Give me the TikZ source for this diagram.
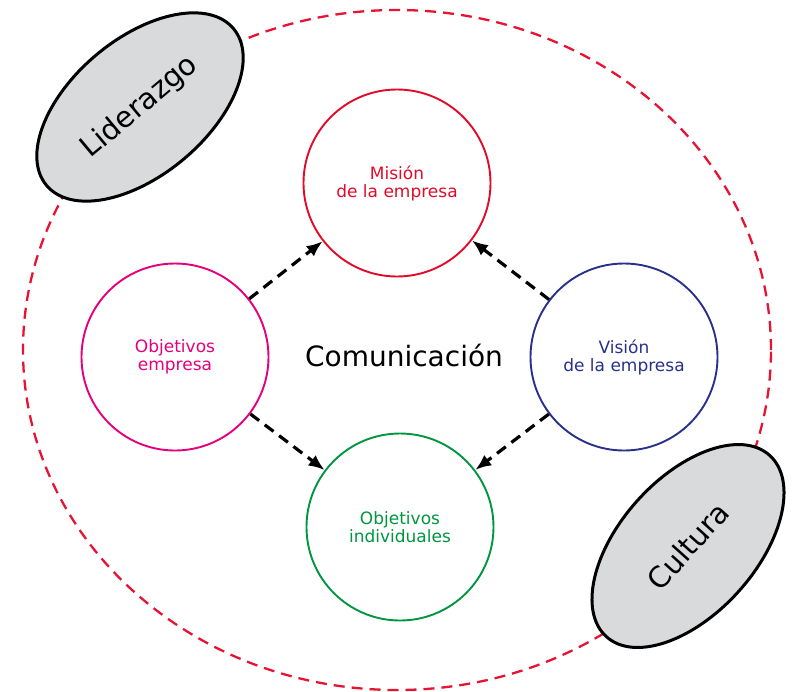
\documentclass[tikz,border=0pt]{standalone}
\usepackage{fontspec}
\setmainfont{DejaVu Sans}
\usetikzlibrary{arrows.meta,shapes.geometric}
\definecolor{ringred}{RGB}{230,20,50}
\definecolor{misred}{RGB}{226,10,40}
\definecolor{objpink}{RGB}{228,0,125}
\definecolor{visblue}{RGB}{40,48,140}
\definecolor{indgreen}{RGB}{0,150,64}
\definecolor{pillargray}{RGB}{217,218,220}

\begin{document}
\begin{tikzpicture}[x=1pt,y=-1pt,>={Latex[length=16pt,width=13pt]},
  ring/.style={ellipse,draw=ringred,line width=2.3pt,dash pattern=on 11pt off 7pt,minimum width=748pt,minimum height=680pt,inner sep=0pt},
  topic/.style={circle,draw,line width=1.9pt,minimum size=187pt,align=center,font=\fontsize{17}{18}\selectfont},
  pillar/.style={ellipse,draw=black,line width=3pt,fill=pillargray,minimum width=244pt,minimum height=136pt,inner sep=0pt,font=\fontsize{29}{34}\selectfont},
  link/.style={->,line width=3.2pt,dash pattern=on 11pt off 7pt}]
\useasboundingbox (0,0) rectangle (792,691);
\node[ring] (ring) at (397,350) {};
\node[topic,draw=misred,text=misred] (mision) at (397,183) {Misión\\de la empresa};
\node[topic,draw=objpink,text=objpink] (objemp) at (175,357) {Objetivos\\empresa};
\node[topic,draw=visblue,text=visblue] (vision) at (624,357) {Visión\\de la empresa};
\node[topic,draw=indgreen,text=indgreen] (objind) at (400,527) {Objetivos\\individuales};
\node[font=\fontsize{28}{32}\selectfont] (comun) at (404,355) {Comunicación};
\node[pillar,rotate=40] (lider) at (140,107) {Liderazgo};
\node[pillar,rotate=48] (cultura) at (688,546) {Cultura};
\draw[link] (objemp) -- (mision);
\draw[link] (vision) -- (mision);
\draw[link] (objemp) -- (objind);
\draw[link] (vision) -- (objind);
\end{tikzpicture}
\end{document}
